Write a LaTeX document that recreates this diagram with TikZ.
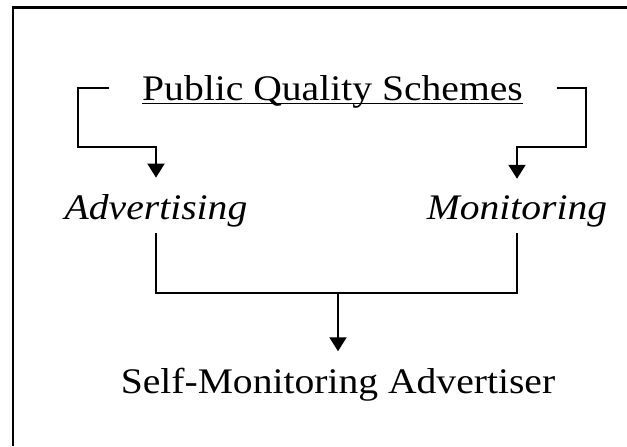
\documentclass[tikz,border=0pt]{standalone}
\usepackage{fontspec}
\setmainfont{Liberation Serif}
\usetikzlibrary{arrows.meta}

\begin{document}
\begin{tikzpicture}[
  x=0.5pt,y=0.5pt,
  term/.style={inner sep=0pt,anchor=base,xscale=1.1,font=\fontsize{18}{20}\selectfont},
  link/.style={line width=1pt},
  flow/.style={link,-{Triangle[length=7pt,width=8.5pt]}},
  frame/.style={line width=1.3pt}
]
\useasboundingbox (0,0) rectangle (627,446);
\draw[frame] (13,0) |- (627,438.5);
% texts
\node[term] (pqs) at (332.5,346) {Public Quality Schemes};
\node[term] (adv) at (156,227) {\itshape Advertising};
\node[term] (mon) at (517,227) {\itshape Monitoring};
\node[term] (sma) at (338,53) {Self-Monitoring Advertiser};
\draw[link,line width=0.9pt] ([yshift=-1.7pt]pqs.base west) -- ([yshift=-1.7pt]pqs.base east);
% brackets from the schemes
\draw[flow] ([shift={(-16.5pt,6pt)}]pqs.base west) -- ++(-15.5pt,0) -- ++(0,-29.5pt) -| ([yshift=8pt]adv.north);
\draw[flow] ([shift={(17pt,6pt)}]pqs.base east) -- ++(14.5pt,0) -- ++(0,-29.5pt) -| ([yshift=8pt]mon.north);
% joining both
\coordinate (join) at (338,153);
\draw[link] ([yshift=-3pt]adv.south) |- (join) -| ([yshift=-3pt]mon.south);
\draw[flow] (join) -- ([yshift=8pt]sma.north);
\end{tikzpicture}
\end{document}
